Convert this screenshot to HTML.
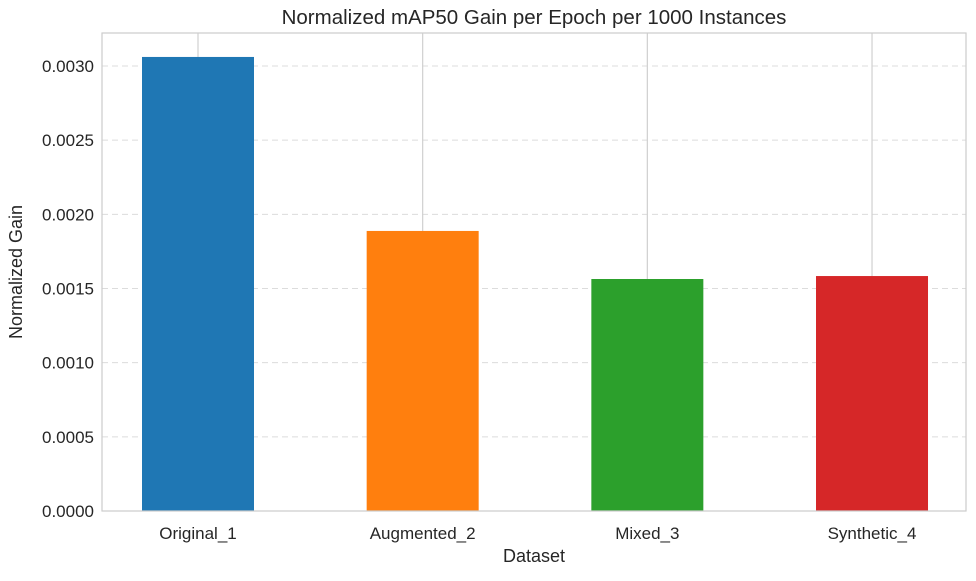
<!DOCTYPE html>
<html><head><meta charset="utf-8"><style>
body{margin:0;background:#fff;}
svg text{font-family:"Liberation Sans","DejaVu Sans",sans-serif;fill:#262626;}
</style></head><body>
<svg id="chart" width="976" height="576" xmlns="http://www.w3.org/2000/svg">
<rect width="976" height="576" fill="#fff"/>
<g id="grid"></g>
<g id="bars"></g>
<g id="axes"></g>
<text x="534" y="24" font-size="20.5" text-anchor="middle">Normalized mAP50 Gain per Epoch per 1000 Instances</text>
<text x="534" y="562" font-size="18" text-anchor="middle">Dataset</text>
<text transform="translate(22,272) rotate(-90)" font-size="18" text-anchor="middle">Normalized Gain</text>
</svg>
<script>
const categories=["Original_1","Augmented_2","Mixed_3","Synthetic_4"];
const values=[0.003061,0.001888,0.001564,0.001584];
const colors=["#1f77b4","#ff7f0e","#2ca02c","#d62728"];
const yTicks=[0,0.0005,0.001,0.0015,0.002,0.0025,0.003];
const yTickLabels=["0.0000","0.0005","0.0010","0.0015","0.0020","0.0025","0.0030"];
const L=102,R=966,T=33,B=511;
const y=v=>B-v/0.003*445;
const x=i=>198+224.67*i;
const bw=112;
const NS="http://www.w3.org/2000/svg";
function mk(tag,attrs,parent){const e=document.createElementNS(NS,tag);for(const k in attrs)e.setAttribute(k,attrs[k]);parent.appendChild(e);return e;}
const g=document.getElementById('grid'),b=document.getElementById('bars'),a=document.getElementById('axes');
yTicks.forEach((t,i)=>{
  if(t>0){const l=mk('line',{x1:L,x2:R,y1:y(t),y2:y(t),stroke:'#dcdcdc','stroke-width':1,'stroke-dasharray':'6,4'},g);
  
  }
  const tx=mk('text',{x:L-8,y:y(t)+6,'font-size':17,'text-anchor':'end'},a);
  tx.textContent=yTickLabels[i];
  
  
});
categories.forEach((c,i)=>{
  const gl=mk('line',{x1:x(i),x2:x(i),y1:T,y2:B,stroke:'#d0d0d0','stroke-width':1.2},g);
  
  
  const r=mk('rect',{x:x(i)-bw/2,y:y(values[i]),width:bw,height:B-y(values[i]),fill:colors[i]},b);
  
  
  const tx=mk('text',{x:x(i),y:B+28,'font-size':17,'text-anchor':'middle'},a);
  tx.textContent=c;
  
  
});
const fr=mk('rect',{x:L,y:T,width:R-L,height:B-T,fill:'none',stroke:'#cccccc','stroke-width':1.2},a);


</script>
</body></html>
